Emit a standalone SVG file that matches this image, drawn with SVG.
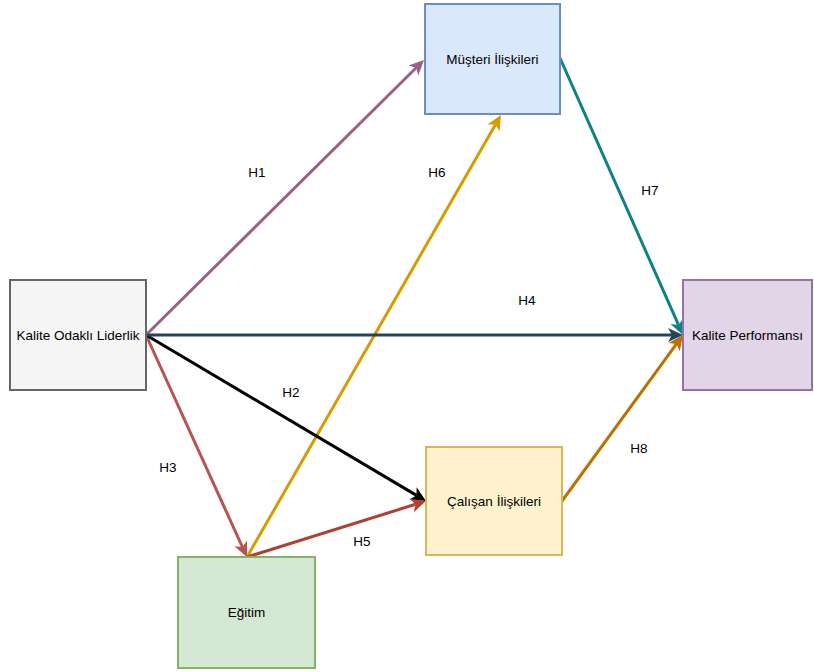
<svg xmlns="http://www.w3.org/2000/svg" width="814" height="672" viewBox="0 0 814 672">
<style>
text{font-family:"Liberation Sans",Arial,sans-serif;font-size:13.5px;fill:#000;text-anchor:middle;dominant-baseline:central}
.n{stroke-width:2}
.e{fill:none;stroke-width:3}
</style>
<defs>
<marker id="m1" viewBox="-5 -8 17 16" markerWidth="17" markerHeight="16" refX="0" refY="0" orient="auto" markerUnits="userSpaceOnUse"><path d="M-4,-7 L11,0 L-4,7 L0,0 Z" fill="#996185"/></marker>
<marker id="m2" viewBox="-5 -8 17 16" markerWidth="17" markerHeight="16" refX="0" refY="0" orient="auto" markerUnits="userSpaceOnUse"><path d="M-4,-7 L11,0 L-4,7 L0,0 Z" fill="#000"/></marker>
<marker id="m3" viewBox="-5 -8 17 16" markerWidth="17" markerHeight="16" refX="0" refY="0" orient="auto" markerUnits="userSpaceOnUse"><path d="M-4,-7 L11,0 L-4,7 L0,0 Z" fill="#b85450"/></marker>
<marker id="m4" viewBox="-5 -8 17 16" markerWidth="17" markerHeight="16" refX="0" refY="0" orient="auto" markerUnits="userSpaceOnUse"><path d="M-4,-7 L11,0 L-4,7 L0,0 Z" fill="#23445d"/></marker>
<marker id="m5" viewBox="-5 -8 17 16" markerWidth="17" markerHeight="16" refX="0" refY="0" orient="auto" markerUnits="userSpaceOnUse"><path d="M-4,-7 L11,0 L-4,7 L0,0 Z" fill="#ae4132"/></marker>
<marker id="m6" viewBox="-5 -8 17 16" markerWidth="17" markerHeight="16" refX="0" refY="0" orient="auto" markerUnits="userSpaceOnUse"><path d="M-4,-7 L11,0 L-4,7 L0,0 Z" fill="#d79b00"/></marker>
<marker id="m7" viewBox="-5 -8 17 16" markerWidth="17" markerHeight="16" refX="0" refY="0" orient="auto" markerUnits="userSpaceOnUse"><path d="M-4,-7 L11,0 L-4,7 L0,0 Z" fill="#0e8088"/></marker>
<marker id="m8" viewBox="-5 -8 17 16" markerWidth="17" markerHeight="16" refX="0" refY="0" orient="auto" markerUnits="userSpaceOnUse"><path d="M-4,-7 L11,0 L-4,7 L0,0 Z" fill="#bd7000"/></marker>
</defs>
<g id="connectors">
<line class="e" x1="146" y1="335" x2="416.2" y2="67.7" stroke="#996185" marker-end="url(#m1)"/>
<line class="e" x1="146" y1="335" x2="242.4" y2="547" stroke="#b85450" marker-end="url(#m3)"/>
<line class="e" x1="247" y1="557" x2="495.5" y2="124.5" stroke="#d79b00" marker-end="url(#m6)"/>
<line class="e" x1="146" y1="335" x2="416.5" y2="495.4" stroke="#000" stroke-width="4" marker-end="url(#m2)"/>
<line class="e" x1="146" y1="335" x2="672" y2="335" stroke="#23445d" stroke-width="4" marker-end="url(#m4)"/>
<line class="e" x1="247" y1="557" x2="415.5" y2="504.3" stroke="#ae4132" stroke-width="4" marker-end="url(#m5)"/>
<line class="e" x1="560" y1="58" x2="678.5" y2="324.9" stroke="#0e8088" marker-end="url(#m7)"/>
<line class="e" x1="562" y1="501" x2="676.5" y2="343.9" stroke="#bd7000" marker-end="url(#m8)"/>
<text x="257" y="172">H1</text>
<text x="437" y="172">H6</text>
<text x="650" y="190">H7</text>
<text x="527" y="300">H4</text>
<text x="291" y="392">H2</text>
<text x="168" y="467">H3</text>
<text x="362" y="541">H5</text>
<text x="639" y="448">H8</text>
</g>
<g id="kalite-odakli-liderlik">
<rect class="n" x="10" y="280" width="136" height="110" fill="#f5f5f5" stroke="#666666"/>
<text x="78" y="335">Kalite Odaklı Liderlik</text>
</g>
<g id="musteri-iliskileri">
<rect class="n" x="425" y="4" width="135" height="110" fill="#dae8fc" stroke="#6c8ebf"/>
<text x="492.5" y="59">Müşteri İlişkileri</text>
</g>
<g id="kalite-performansi">
<rect class="n" x="683" y="280" width="129" height="110" fill="#e1d5e7" stroke="#9673a6"/>
<text x="747.5" y="335">Kalite Performansı</text>
</g>
<g id="calisan-iliskileri">
<rect class="n" x="426" y="447" width="136" height="108" fill="#fff2cc" stroke="#d6b656"/>
<text x="494" y="501">Çalışan İlişkileri</text>
</g>
<g id="egitim">
<rect class="n" x="178" y="557" width="137" height="111" fill="#d5e8d4" stroke="#82b366"/>
<text x="246.5" y="612">Eğitim</text>
</g>
</svg>
